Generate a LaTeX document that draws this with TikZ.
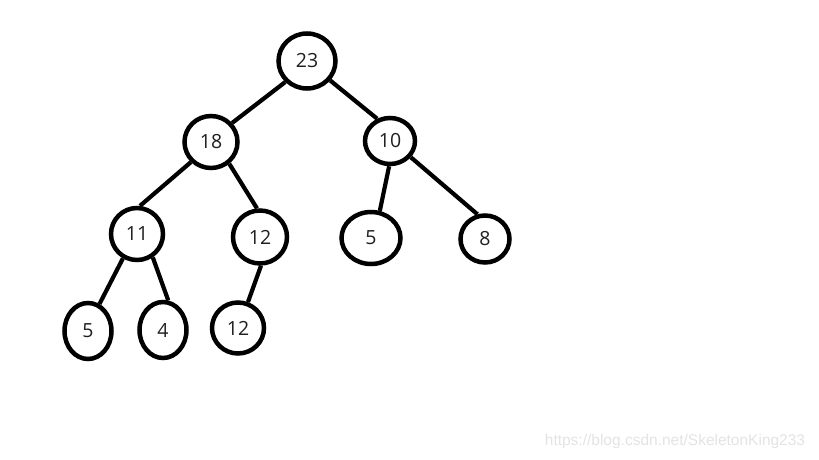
\documentclass[tikz,border=0pt]{standalone}
\usepackage{fontspec}
\setmainfont{Open Sans}
\newfontfamily\markfont{Liberation Sans}
\usetikzlibrary{shapes.geometric}
\tikzstyle{key}=[draw, ellipse, line width=4.5pt, inner sep=0pt, text=black!88, font=\fontsize{19.5}{22}\selectfont]
\tikzstyle{link}=[line width=4.2pt]

\begin{document}
\begin{tikzpicture}[x=1pt, y=-1pt]
    \useasboundingbox (0,0) rectangle (819,460);

    \node [key, minimum width=57pt, minimum height=55pt] (n23) at (307,61) {23};
    \node [key, minimum width=53pt, minimum height=52pt] (n18) at (211,142) {18};
    \node [key, minimum width=50pt, minimum height=46pt] (n10) at (390,141) {10};
    \node [key, minimum width=52pt, minimum height=52pt] (n11) at (137,234) {11};
    \node [key, minimum width=54pt, minimum height=53pt] (n12) at (260,237) {12};
    \node [key, minimum width=59pt, minimum height=52pt] (n5r) at (371,238) {5};
    \node [key, minimum width=49pt, minimum height=47pt] (n8) at (485,239) {8};
    \node [key, minimum width=47pt, minimum height=56pt] (n5l) at (88,331) {5};
    \node [key, minimum width=47pt, minimum height=56pt] (n4) at (163,330) {4};
    \node [key, minimum width=52pt, minimum height=51pt] (n12b) at (238,328) {12};

    \draw[link] (n23.224) -- (n18.42);
    \draw[link] (n23.-40) -- (n10.120);
    \draw[link] (n18.225) -- (n11.84);
    \draw[link] (n18.-50) -- (n12.96);
    \draw[link] (n10.-92) -- (n5r.72);
    \draw[link] (n10.-38) -- (n8.107);
    \draw[link] (n11.240) -- (n5l.67);
    \draw[link] (n11.-56) -- (n4.80);
    \draw[link] (n12.-88) -- (n12b.69);

    \node [text=black!11, font=\markfont\fontsize{15.5}{18}\selectfont] (mark) at (675,441) {https://blog.csdn.net/SkeletonKing233};
\end{tikzpicture}
\end{document}
